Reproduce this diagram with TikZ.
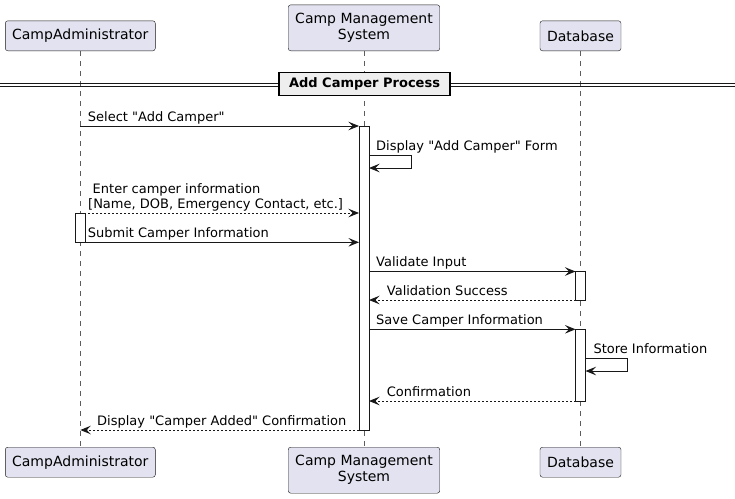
\documentclass[tikz,border=0pt]{standalone}
\usepackage{fontspec}
\setmainfont{DejaVu Sans}
\usetikzlibrary{arrows.meta}

\definecolor{partfill}{HTML}{E2E2F0}
\definecolor{linecol}{HTML}{181818}
\definecolor{divfill}{HTML}{EEEEEE}

\newcommand{\q}{\textquotedbl{}}

\begin{document}
\begin{tikzpicture}[
    x=1pt, y=-1pt,
    every node/.style={font=\fontsize{13}{15}\selectfont},
    >={Stealth[length=10.5pt, width=8.5pt, inset=4pt]},
    participant/.style={draw=linecol, fill=partfill, rounded corners=2.5pt,
        font=\fontsize{14}{16}\selectfont, align=center, inner sep=0pt},
    lifeline/.style={draw=linecol!70, line width=0.5pt, dash pattern=on 5pt off 5pt},
    activation/.style={draw=linecol, fill=white, line width=1pt},
    msg/.style={draw=linecol, line width=1pt},
    reply/.style={msg, dash pattern=on 2pt off 2pt},
    lbl/.style={anchor=base west, inner sep=0pt},
]
\useasboundingbox (0,0) rectangle (735,498);

% === Lifeline positions ===
\def\xAdm{80.3}
\def\xSys{364}
\def\xDb{580.5}

% === Participants (top and bottom) ===
\node[participant, anchor=south, minimum width=150, minimum height=30] (admTop) at (\xAdm,51) {CampAdministrator};
\node[participant, anchor=south, minimum width=151.5, minimum height=46] (sysTop) at (\xSys,51) {Camp Management\\System};
\node[participant, anchor=south, minimum width=81, minimum height=30] (dbTop) at (\xDb,51) {Database};

\node[participant, anchor=north, minimum width=150, minimum height=30] (admBot) at (\xAdm,447) {CampAdministrator};
\node[participant, anchor=north, minimum width=151.5, minimum height=46] (sysBot) at (\xSys,447) {Camp Management\\System};
\node[participant, anchor=north, minimum width=81, minimum height=30] (dbBot) at (\xDb,447) {Database};

% Lifelines
\draw[lifeline] (admTop) -- (admBot);
\draw[lifeline] (sysTop) -- (sysBot);
\draw[lifeline] (dbTop) -- (dbBot);

% === Divider ===
\coordinate (divL1) at (0,83.3);
\coordinate (divR1) at (735,83.3);
\coordinate (divL2) at (0,86.7);
\coordinate (divR2) at (735,86.7);
\draw[linecol, line width=0.8pt] (divL1) -- (divR1);
\draw[linecol, line width=0.8pt] (divL2) -- (divR2);
\node[draw=black, fill=divfill, line width=1.5pt, minimum width=171, minimum height=23.4,
    inner sep=0pt, font=\fontsize{13}{15}\selectfont\bfseries] (divBox) at (364.5,84) {Add Camper Process};

% === Activations ===
\draw[activation] (\xSys-5,126) rectangle (\xSys+5,430);
\draw[activation] (\xAdm-5,213.3) rectangle (\xAdm+5,242.3);
\draw[activation] (\xDb-5,271.5) rectangle (\xDb+5,300);
\draw[activation] (\xDb-5,329.3) rectangle (\xDb+5,401);

% === Messages ===
% Select "Add Camper"
\coordinate (selA) at (\xAdm,126);
\coordinate (selB) at (\xSys-5,126);
\draw[msg,->] (selA) -- (selB);
\node[lbl] (selL) at (87.7,121) {Select \q Add Camper\q};

% Display form (self)
\coordinate (formA) at (\xSys+5,155);
\coordinate (formB) at (\xSys+5,168);
\draw[msg,->] (formA) -- ++(42,0) |- (formB);
\node[lbl] (formL) at (376,150) {Display \q Add Camper\q{} Form};

% Enter camper information
\coordinate (entA) at (\xAdm,213);
\coordinate (entB) at (\xSys-5,213);
\draw[reply,->] (entA) -- (entB);
\node[lbl] (entL1) at (92.5,193) {Enter camper information};
\node[lbl] (entL2) at (88,208) {[Name, DOB, Emergency Contact, etc.]};

% Submit
\coordinate (subA) at (\xAdm+5,242.3);
\coordinate (subB) at (\xSys-5,242.3);
\draw[msg,->] (subA) -- (subB);
\node[lbl] (subL) at (87.7,237) {Submit Camper Information};

% Validate
\coordinate (valA) at (\xSys+5,271.5);
\coordinate (valB) at (\xDb-5,271.5);
\draw[msg,->] (valA) -- (valB);
\node[lbl] (valL) at (376,266.5) {Validate Input};

% Validation success
\coordinate (vsA) at (\xDb-5,300);
\coordinate (vsB) at (\xSys+5,300);
\draw[reply,->] (vsA) -- (vsB);
\node[lbl] (vsL) at (386.7,295) {Validation Success};

% Save
\coordinate (savA) at (\xSys+5,329.3);
\coordinate (savB) at (\xDb-5,329.3);
\draw[msg,->] (savA) -- (savB);
\node[lbl] (savL) at (376,324.3) {Save Camper Information};

% Store (self)
\coordinate (stoA) at (\xDb+5,358.3);
\coordinate (stoB) at (\xDb+5,371);
\draw[msg,->] (stoA) -- ++(42,0) |- (stoB);
\node[lbl] (stoL) at (593.3,353.3) {Store Information};

% Confirmation
\coordinate (cfA) at (\xDb-5,401);
\coordinate (cfB) at (\xSys+5,401);
\draw[reply,->] (cfA) -- (cfB);
\node[lbl] (cfL) at (386.7,396) {Confirmation};

% Camper added
\coordinate (addA) at (\xSys-5,430);
\coordinate (addB) at (\xAdm,430);
\draw[reply,->] (addA) -- (addB);
\node[lbl] (addL) at (97,425) {Display \q Camper Added\q{} Confirmation};

\end{tikzpicture}
\end{document}
